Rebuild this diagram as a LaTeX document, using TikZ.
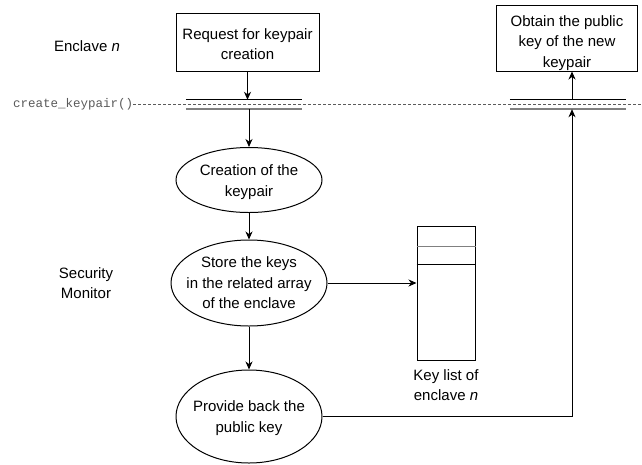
\documentclass[tikz,border=0pt]{standalone}
\usepackage{fontspec}
\setmainfont{Liberation Sans}
\newfontfamily\codefont{Liberation Mono}
\usetikzlibrary{arrows.meta,shapes.geometric}

\definecolor{bargray}{RGB}{128,128,128}
\definecolor{codegray}{RGB}{90,90,90}

\begin{document}
\begin{tikzpicture}[x=1pt,y=-1pt,
  every node/.style={font=\fontsize{15}{20.5}\selectfont, inner sep=0pt},
  box/.style={draw, line width=1pt},
  oval/.style={draw, ellipse, line width=1pt},
  txt/.style={align=center},
  bar/.style={minimum width=116pt, minimum height=9pt},
  arr/.style={-{Stealth[length=8pt,width=7pt,inset=2.5pt]}, line width=1pt},
  callline/.style={codegray, line width=0.8pt, dash pattern=on 3pt off 2pt}]

\useasboundingbox (0,0) rectangle (642,464);

% lane labels
\node[txt] (enc) at (87,46) {Enclave \textit{n}};
\node[txt] (sm) at (86,283) {Security\\Monitor};

% enclave side
\node[box, minimum width=143pt, minimum height=58pt] (req) at (247.5,42) {};
\node[txt] (req-t) at (247.5,44) {Request for keypair\\creation};
\node[box, minimum width=141pt, minimum height=66pt] (obt) at (567,38) {};
\node[txt] (obt-t) at (567,43) {Obtain the public\\key of the new\\keypair};

% call boundary
\node[anchor=west, font=\codefont\fontsize{12.5}{14}\selectfont, text=codegray] (fn) at (13,104) {create\_keypair()};
\coordinate (lineend) at (642,104);
\draw[callline] (fn.east) -- (lineend);

\node[bar] (barL) at (244,104.5) {};
\node[bar] (barR) at (568,104.5) {};
\foreach \b in {barL,barR}{
  \draw[line width=1pt] (\b.north west) -- (\b.north east);
  \draw[bargray, line width=1.8pt] (\b.south west) -- (\b.south east);
}

% security monitor side
\node[oval, minimum width=146pt, minimum height=65pt] (gen) at (249,180) {};
\node[txt] (gen-t) at (249,182) {Creation of the\\keypair};
\node[oval, minimum width=156pt, minimum height=86pt] (store) at (249,283) {};
\node[txt] (store-t) at (store) {Store the keys\\in the related array\\of the enclave};
\node[oval, minimum width=146pt, minimum height=93pt] (prov) at (249,416.5) {};
\node[txt] (prov-t) at (249,418) {Provide back the\\public key};

% key list
\node[draw, line width=1pt, minimum width=58pt, minimum height=134pt] (keys) at (446,293) {};
\draw[bargray, line width=1pt] ([yshift=-21pt]keys.north west) -- ([yshift=-21pt]keys.north east);
\draw[line width=1pt] ([yshift=-39pt]keys.north west) -- ([yshift=-39pt]keys.north east);
\node[txt] (keys-t) at (446,385) {Key list of\\enclave \textit{n}};

% connectors
\coordinate (up) at (572,0);
\draw[arr] (req.south) -- (req.south |- barL.north);
\draw[arr] (gen.north |- barL.south) -- (gen.north);
\draw[arr] (gen.south) -- (store.north);
\draw[arr] (store.east) -- (keys.west |- store.east);
\draw[arr] (store.south) -- (prov.north);
\draw[arr] (prov.east) -| (up |- barR.south);
\draw[arr] (up |- barR.north) -- (up |- obt.south);
\end{tikzpicture}
\end{document}
